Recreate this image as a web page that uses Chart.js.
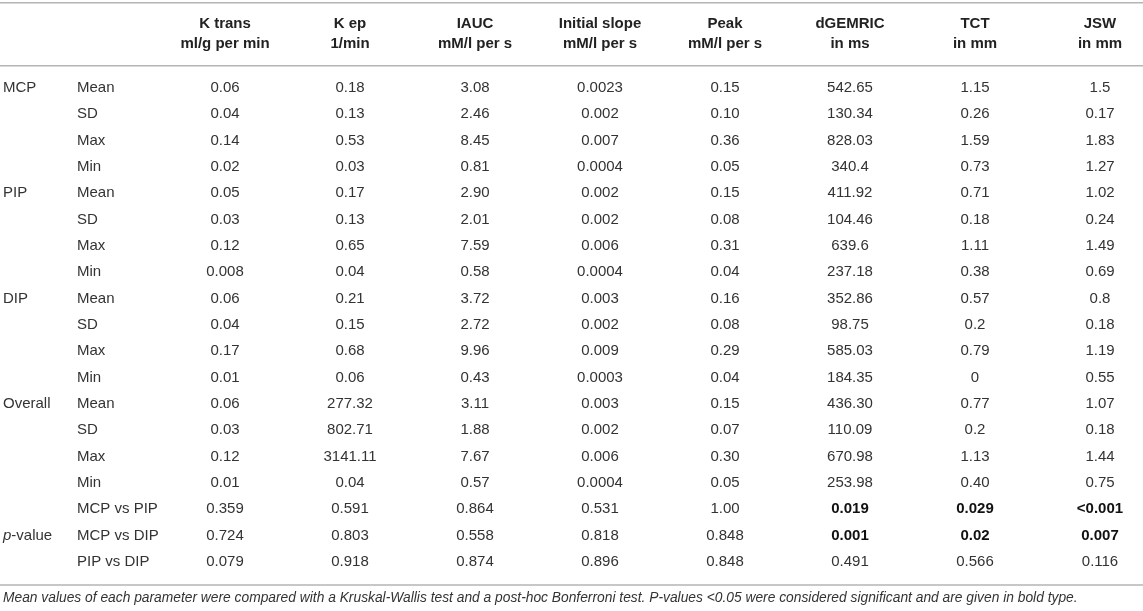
<!DOCTYPE html>
<html>
<head>
<meta charset="utf-8">
<script src="https://cdn.jsdelivr.net/npm/chart.js@4.4.1/dist/chart.umd.min.js"></script>
<style>
  html, body { margin: 0; padding: 0; background: #fff; }
  #wrap { width: 1143px; height: 611px; }
</style>
</head>
<body>
<div id="wrap"><canvas id="table-chart" width="1143" height="611"></canvas></div>
<script>
// column headers (two lines each)
const columns = ['K trans', 'K ep', 'IAUC', 'Initial slope', 'Peak', 'dGEMRIC', 'TCT', 'JSW'];
const units = ['ml/g per min', '1/min', 'mM/l per s', 'mM/l per s', 'mM/l per s', 'in ms', 'in mm', 'in mm'];

// row labels
const groups = ['MCP', 'PIP', 'DIP', 'Overall', 'p-value'];
const groupRows = [0, 4, 8, 12, 17];
const stats = ['Mean', 'SD', 'Max', 'Min', 'Mean', 'SD', 'Max', 'Min', 'Mean', 'SD', 'Max', 'Min',
    'Mean', 'SD', 'Max', 'Min', 'MCP vs PIP', 'MCP vs DIP', 'PIP vs DIP'];

// values, kept as printed
const kTrans = ['0.06', '0.04', '0.14', '0.02', '0.05', '0.03', '0.12', '0.008', '0.06', '0.04', '0.17', '0.01',
    '0.06', '0.03', '0.12', '0.01', '0.359', '0.724', '0.079'];
const kEp = ['0.18', '0.13', '0.53', '0.03', '0.17', '0.13', '0.65', '0.04', '0.21', '0.15', '0.68', '0.06',
    '277.32', '802.71', '3141.11', '0.04', '0.591', '0.803', '0.918'];
const iauc = ['3.08', '2.46', '8.45', '0.81', '2.90', '2.01', '7.59', '0.58', '3.72', '2.72', '9.96', '0.43',
    '3.11', '1.88', '7.67', '0.57', '0.864', '0.558', '0.874'];
const initialSlope = ['0.0023', '0.002', '0.007', '0.0004', '0.002', '0.002', '0.006', '0.0004', '0.003', '0.002', '0.009', '0.0003',
    '0.003', '0.002', '0.006', '0.0004', '0.531', '0.818', '0.896'];
const peak = ['0.15', '0.10', '0.36', '0.05', '0.15', '0.08', '0.31', '0.04', '0.16', '0.08', '0.29', '0.04',
    '0.15', '0.07', '0.30', '0.05', '1.00', '0.848', '0.848'];
const dgemric = ['542.65', '130.34', '828.03', '340.4', '411.92', '104.46', '639.6', '237.18', '352.86', '98.75', '585.03', '184.35',
    '436.30', '110.09', '670.98', '253.98', '0.019', '0.001', '0.491'];
const tct = ['1.15', '0.26', '1.59', '0.73', '0.71', '0.18', '1.11', '0.38', '0.57', '0.2', '0.79', '0',
    '0.77', '0.2', '1.13', '0.40', '0.029', '0.02', '0.566'];
const jsw = ['1.5', '0.17', '1.83', '1.27', '1.02', '0.24', '1.49', '0.69', '0.8', '0.18', '1.19', '0.55',
    '1.07', '0.18', '1.44', '0.75', '<0.001', '0.007', '0.116'];

const series = [kTrans, kEp, iauc, initialSlope, peak, dgemric, tct, jsw];
const firstPRow = 16;

const footnote = 'Mean values of each parameter were compared with a Kruskal-Wallis test and a post-hoc Bonferroni test. ' +
    'P-values <0.05 were considered significant and are given in bold type.';

const FAMILY = '"Liberation Sans", Arial, sans-serif';
const FONT = '15px ' + FAMILY;
const BOLD = 'bold 15px ' + FAMILY;
const TEXT = '#333';
const RULE = '#b4b4b4';

function isSignificant(row, txt) {
    return row >= firstPRow && parseFloat(txt.replace('<', '')) < 0.05;
}

function hline(ctx, y, w) {
    ctx.beginPath();
    ctx.moveTo(0, y);
    ctx.lineTo(w, y);
    ctx.stroke();
}

// draws the table text on top of the invisible points
const tableText = {
    id: 'tableText',
    afterDatasetsDraw(chart) {
        const ctx = chart.ctx;
        const x = chart.scales.x;
        const y = chart.scales.y;
        const row0 = y.getPixelForValue(0);
        const rowLast = y.getPixelForValue(stats.length - 1);
        ctx.save();

        ctx.strokeStyle = RULE;
        ctx.lineWidth = 1.5;
        hline(ctx, row0 - 85, chart.width);
        hline(ctx, row0 - 22, chart.width);
        hline(ctx, rowLast + 23, chart.width);

        ctx.textBaseline = 'middle';
        ctx.textAlign = 'center';
        ctx.fillStyle = '#222';
        ctx.font = BOLD;
        columns.forEach((c, i) => {
            const px = x.getPixelForValue(i);
            ctx.fillText(c, px, row0 - 64);
            ctx.fillText(units[i], px, row0 - 44);
        });

        chart.data.datasets.forEach((ds, di) => {
            chart.getDatasetMeta(di).data.forEach((pt, r) => {
                const txt = series[di][r];
                const sig = isSignificant(r, txt);
                ctx.font = sig ? BOLD : FONT;
                ctx.fillStyle = sig ? '#111' : TEXT;
                ctx.fillText(txt, pt.x, pt.y);
            });
        });

        ctx.textAlign = 'left';
        ctx.fillStyle = TEXT;
        ctx.font = FONT;
        stats.forEach((s, r) => ctx.fillText(s, 77, y.getPixelForValue(r)));
        groups.forEach((g, i) => {
            const py = y.getPixelForValue(groupRows[i]);
            if (g === 'p-value') {
                ctx.font = 'italic ' + FONT;
                ctx.fillText('p', 3, py);
                const w = ctx.measureText('p').width;
                ctx.font = FONT;
                ctx.fillText('-value', 3 + w, py);
            } else {
                ctx.fillText(g, 3, py);
            }
        });

        ctx.font = 'italic 13.8px ' + FAMILY;
        ctx.fillText(footnote, 3, rowLast + 36);
        ctx.restore();
    }
};

const datasets = series.map((vals, c) => ({
    label: columns[c],
    data: vals.map((v, r) => ({ x: columns[c], y: r })),
    pointRadius: 0,
    pointHoverRadius: 0
}));

new Chart(document.getElementById('table-chart').getContext('2d'), {
    type: 'scatter',
    data: { datasets: datasets },
    options: {
        responsive: false,
        animation: false,
        events: [],
        layout: { padding: { left: 225, right: 43, top: 0, bottom: 0 } },
        plugins: { legend: { display: false }, tooltip: { enabled: false } },
        scales: {
            x: { type: 'category', labels: columns, offset: false, display: false },
            y: { type: 'linear', reverse: true, min: -3.33, max: 19.86, display: false }
        }
    },
    plugins: [tableText]
});
</script>
</body>
</html>
